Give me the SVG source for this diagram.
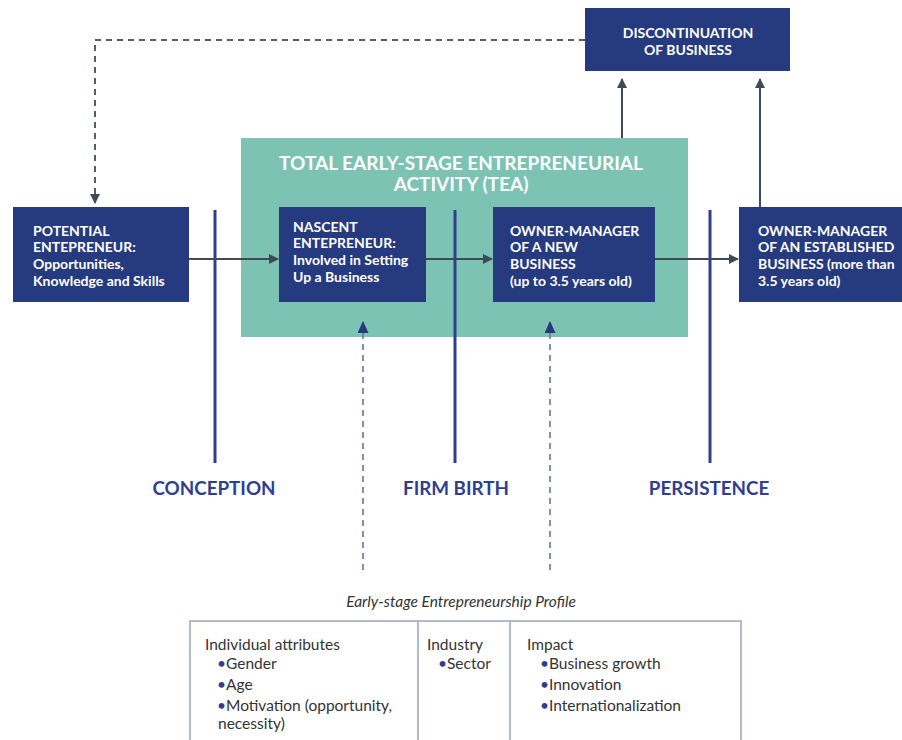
<svg xmlns="http://www.w3.org/2000/svg" width="902" height="740" viewBox="0 0 902 740">
<style>
  .box { fill: #263a80; }
  .bt { font-family: Lato, "Liberation Sans", sans-serif; font-weight: 700; font-size: 14px; fill: #ffffff; }
  .ttl { font-family: Lato, "Liberation Sans", sans-serif; font-weight: 700; font-size: 19px; fill: #ffffff; }
  .stage { fill: none; stroke: #2f3e8f; stroke-width: 3; }
  .lab { font-family: Lato, "Liberation Sans", sans-serif; font-weight: 700; font-size: 18.8px; fill: #2f3e8f; }
  .conn { fill: none; stroke: #3f4a55; stroke-width: 2; }
  .dash { fill: none; stroke: #555d66; stroke-width: 2; stroke-dasharray: 6 5; }
  .dashb { fill: none; stroke: #6a7596; stroke-width: 1.6; stroke-dasharray: 6 5; }
  .tt { font-family: Lato, "Liberation Sans", sans-serif; font-size: 15.5px; fill: #333333; }
  .bul { fill: #2f3e8f; }
</style>
<defs>
  <marker id="ah" markerWidth="10" markerHeight="10" refX="9" refY="5" orient="auto" markerUnits="userSpaceOnUse">
    <path d="M0,0 L10,5 L0,10 Z" fill="#3f4a55"/>
  </marker>
  <marker id="ahb" markerWidth="12" markerHeight="11" refX="11" refY="5.5" orient="auto" markerUnits="userSpaceOnUse">
    <path d="M0,0 L12,5.5 L0,11 Z" fill="#26397f"/>
  </marker>
</defs>

<g id="tea">
  <rect x="241" y="138" width="447" height="199" fill="#7cc3b4"/>
  <text class="ttl" x="461" y="170" text-anchor="middle">TOTAL EARLY-STAGE ENTREPRENEURIAL</text>
  <text class="ttl" x="461" y="191" text-anchor="middle">ACTIVITY (TEA)</text>
</g>

<g id="stages">
  <line class="stage" x1="215" y1="210" x2="215" y2="463"/>
  <line class="stage" x1="455" y1="210" x2="455" y2="463"/>
  <line class="stage" x1="710" y1="210" x2="710" y2="463"/>
  <text class="lab" x="214" y="495" text-anchor="middle">CONCEPTION</text>
  <text class="lab" x="456" y="495" text-anchor="middle">FIRM BIRTH</text>
  <text class="lab" x="709" y="495" text-anchor="middle">PERSISTENCE</text>
</g>

<g id="connectors">
  <line class="conn" x1="189" y1="259" x2="278" y2="259" marker-end="url(#ah)"/>
  <line class="conn" x1="426" y1="259" x2="492" y2="259" marker-end="url(#ah)"/>
  <line class="conn" x1="655" y1="259" x2="738" y2="259" marker-end="url(#ah)"/>
  <line class="conn" x1="622" y1="138" x2="622" y2="79" marker-end="url(#ah)"/>
  <line class="conn" x1="760" y1="207" x2="760" y2="79" marker-end="url(#ah)"/>
  <polyline class="dash" points="585,40 95,40 95,203" marker-end="url(#ah)"/>
  <line class="dashb" x1="363" y1="570" x2="363" y2="322" marker-end="url(#ahb)"/>
  <line class="dashb" x1="550" y1="570" x2="550" y2="322" marker-end="url(#ahb)"/>
</g>

<g id="discontinuation">
  <rect class="box" x="585" y="8" width="205" height="63"/>
  <text class="bt" x="688" y="38" text-anchor="middle">DISCONTINUATION</text>
  <text class="bt" x="688" y="55" text-anchor="middle">OF BUSINESS</text>
</g>

<g id="potential">
  <rect class="box" x="13" y="207" width="176" height="95"/>
  <text class="bt" x="33" y="236">POTENTIAL</text>
  <text class="bt" x="33" y="252">ENTEPRENEUR:</text>
  <text class="bt" x="33" y="269">Opportunities,</text>
  <text class="bt" x="33" y="286">Knowledge and Skills</text>
</g>

<g id="nascent">
  <rect class="box" x="279" y="207" width="147" height="95"/>
  <text class="bt" x="293" y="232">NASCENT</text>
  <text class="bt" x="293" y="248">ENTEPRENEUR:</text>
  <text class="bt" x="293" y="265">Involved in Setting</text>
  <text class="bt" x="293" y="282">Up a Business</text>
</g>

<g id="owner-new">
  <rect class="box" x="493" y="207" width="162" height="95"/>
  <text class="bt" x="510" y="236">OWNER-MANAGER</text>
  <text class="bt" x="510" y="252">OF A NEW</text>
  <text class="bt" x="510" y="269">BUSINESS</text>
  <text class="bt" x="510" y="286">(up to 3.5 years old)</text>
</g>

<g id="owner-established">
  <rect class="box" x="739" y="207" width="165" height="95"/>
  <text class="bt" x="758" y="236">OWNER-MANAGER</text>
  <text class="bt" x="758" y="252">OF AN ESTABLISHED</text>
  <text class="bt" x="758" y="269">BUSINESS (more than</text>
  <text class="bt" x="758" y="286">3.5 years old)</text>
</g>

<g id="profile">
  <text class="tt" x="461" y="607" text-anchor="middle" font-style="italic" font-size="15">Early-stage Entrepreneurship Profile</text>
  <rect x="190" y="621" width="551" height="130" fill="none" stroke="#9aa2c2" stroke-width="1.5"/>
  <line x1="418" y1="621" x2="418" y2="745" stroke="#9aa2c2" stroke-width="1.5"/>
  <line x1="510" y1="621" x2="510" y2="745" stroke="#9aa2c2" stroke-width="1.5"/>
  <text class="tt" x="205" y="650">Individual attributes</text>
  <text class="tt" x="217" y="669"><tspan class="bul">•</tspan>Gender</text>
  <text class="tt" x="217" y="690"><tspan class="bul">•</tspan>Age</text>
  <text class="tt" x="217" y="711"><tspan class="bul">•</tspan>Motivation (opportunity,</text>
  <text class="tt" x="218" y="729">necessity)</text>
  <text class="tt" x="427" y="650">Industry</text>
  <text class="tt" x="438" y="669"><tspan class="bul">•</tspan>Sector</text>
  <text class="tt" x="527" y="650">Impact</text>
  <text class="tt" x="540" y="669"><tspan class="bul">•</tspan>Business growth</text>
  <text class="tt" x="540" y="690"><tspan class="bul">•</tspan>Innovation</text>
  <text class="tt" x="540" y="711"><tspan class="bul">•</tspan>Internationalization</text>
</g>
</svg>
